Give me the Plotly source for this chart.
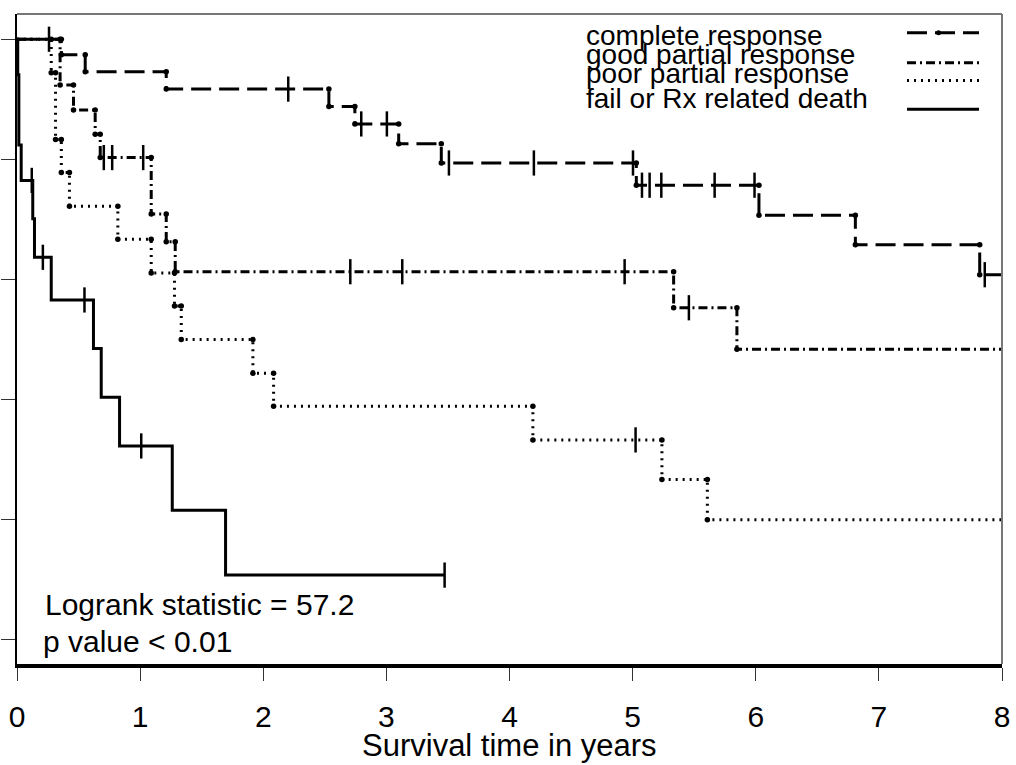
import plotly.graph_objects as go

# ---------------- data ----------------
x_ticks = [0, 1, 2, 3, 4, 5, 6, 7, 8]
y_ticks = [0.0, 0.2, 0.4, 0.6, 0.8, 1.0]

groups = ["complete response", "good partial response",
          "poor partial response", "fail or Rx related death"]

# complete response
cr_times = [0, 0.36, 0.554, 1.212, 2.533, 2.744, 3.10, 3.446, 5.03, 6.026, 6.809, 7.819]
cr_surv = [1.0, 0.974, 0.946, 0.917, 0.888, 0.859, 0.826, 0.794, 0.757, 0.707, 0.658, 0.608]
cr_cens = [0.26, 2.203, 2.796, 3.004, 3.508, 4.198, 5.003, 5.076, 5.138, 5.233, 5.666, 5.99, 7.86]
cr_end = 8.0

# good partial response
gp_times = [0, 0.35, 0.459, 0.635, 0.676, 1.09, 1.212, 1.285, 5.333, 5.847]
gp_surv = [1.0, 0.924, 0.882, 0.842, 0.803, 0.709, 0.663, 0.613, 0.553, 0.484]
gp_cens = [0.705, 0.773, 1.025, 2.707, 3.129, 4.935, 5.457]
gp_end = 8.0

# poor partial response
pp_times = [0, 0.278, 0.313, 0.36, 0.426, 0.819, 1.09, 1.279, 1.334, 1.916, 2.084, 4.19, 5.238, 5.607]
pp_surv = [1.0, 0.944, 0.833, 0.778, 0.722, 0.667, 0.611, 0.556, 0.5, 0.444, 0.389, 0.333, 0.267, 0.2]
pp_cens = [5.024]
pp_end = 8.0

# fail or Rx related death
fr_times = [0, 0.006, 0.015, 0.034, 0.128, 0.142, 0.278, 0.621, 0.684, 0.833, 1.261, 1.694]
fr_surv = [1.0, 0.941, 0.824, 0.765, 0.701, 0.637, 0.566, 0.485, 0.404, 0.323, 0.216, 0.108]
fr_cens = [0.12, 0.21, 0.548, 1.009, 3.473]
fr_end = 3.473

logrank_text = "Logrank statistic = 57.2"
pvalue_text = "p value < 0.01"
x_title = "Survival time in years"

# ---------------- styling ----------------
FONT = "Arial, Liberation Sans, sans-serif"
W, H = 1016, 765
ML, MR, MT, MB = 17, 14, 14, 101
PLOT_W, PLOT_H = W - ML - MR, H - MT - MB

DASH_CR = "20px,8px"
DASH_GP = "9px,4px,2px,4px"
DASH_PP = "2px,5px"


def px_x(px):
    return (px - ML) / PLOT_W


def px_y(py):
    return (MT + PLOT_H - py) / PLOT_H


def surv_at(times, surv, t):
    s = surv[0]
    for ti, si in zip(times, surv):
        if ti <= t:
            s = si
    return s


fig = go.Figure()

series = [
    (cr_times, cr_surv, cr_cens, cr_end, DASH_CR, 3, True),
    (gp_times, gp_surv, gp_cens, gp_end, DASH_GP, 3, True),
    (pp_times, pp_surv, pp_cens, pp_end, DASH_PP, 3, True),
    (fr_times, fr_surv, fr_cens, fr_end, "solid", 3, False),
]

for (times, surv, cens, end, dash, lw, dots), name in zip(series, groups):
    xs = list(times) + [end]
    ys = list(surv) + [surv[-1]]
    fig.add_trace(go.Scatter(x=xs, y=ys, mode="lines", line_shape="hv",
                             line=dict(color="black", width=lw, dash=dash),
                             name=name, showlegend=False, hoverinfo="skip"))
    if dots:
        dx, dy = [], []
        for i in range(1, len(times)):
            dx += [times[i], times[i]]
            dy += [surv[i - 1], surv[i]]
        fig.add_trace(go.Scatter(x=dx, y=dy, mode="markers",
                                 marker=dict(symbol="circle", size=5.5, color="black"),
                                 showlegend=False, hoverinfo="skip"))
    cy = [surv_at(times, surv, t) for t in cens]
    fig.add_trace(go.Scatter(x=cens, y=cy, mode="markers",
                             marker=dict(symbol="line-ns", size=18,
                                         line=dict(color="black", width=2.5)),
                             showlegend=False, hoverinfo="skip"))

shapes = []
# gray frame top and right
shapes.append(dict(type="line", xref="paper", yref="paper", x0=0, x1=1, y0=1, y1=1,
                   line=dict(color="#777777", width=2)))
shapes.append(dict(type="line", xref="paper", yref="paper", x0=1, x1=1, y0=0, y1=1,
                   line=dict(color="#777777", width=2)))

# legend samples
leg_y = [32.7, 62.7, 80.5, 109.3]
leg_dash = [DASH_CR, DASH_GP, DASH_PP, "solid"]
for yy, dd in zip(leg_y, leg_dash):
    shapes.append(dict(type="line", xref="paper", yref="paper",
                       x0=px_x(907), x1=px_x(979), y0=px_y(yy), y1=px_y(yy),
                       line=dict(color="black", width=3, dash=dd)))
shapes.append(dict(type="circle", xref="paper", yref="paper",
                   x0=px_x(936), x1=px_x(941), y0=px_y(30.2), y1=px_y(35.2),
                   fillcolor="black", line=dict(color="black", width=0)))

annotations = []
leg_center = [35.5, 54.5, 73.0, 98.5]
for name, cy in zip(groups, leg_center):
    annotations.append(dict(text=name, xref="paper", yref="paper",
                            x=px_x(585), y=px_y(cy), xanchor="left", yanchor="middle",
                            showarrow=False, borderpad=0,
                            font=dict(family=FONT, size=28, color="black")))
annotations.append(dict(text=logrank_text, xref="paper", yref="paper",
                        x=px_x(44), y=px_y(604.5), xanchor="left", yanchor="middle",
                        showarrow=False, borderpad=0,
                        font=dict(family=FONT, size=30, color="black")))
annotations.append(dict(text=pvalue_text, xref="paper", yref="paper",
                        x=px_x(42), y=px_y(641.5), xanchor="left", yanchor="middle",
                        showarrow=False, borderpad=0,
                        font=dict(family=FONT, size=30, color="black")))
annotations.append(dict(text=x_title, xref="paper", yref="paper",
                        x=px_x(509), y=px_y(746), xanchor="center", yanchor="middle",
                        showarrow=False, borderpad=0,
                        font=dict(family=FONT, size=31, color="black")))

fig.update_layout(
    width=W, height=H,
    margin=dict(l=ML, r=MR, t=MT, b=MB, pad=0),
    paper_bgcolor="white", plot_bgcolor="white",
    shapes=shapes, annotations=annotations,
    showlegend=False,
    xaxis=dict(range=[0, 8], tickvals=x_ticks, ticktext=[str(v) for v in x_ticks],
               automargin=False,
               showgrid=False, zeroline=False,
               showline=True, linecolor="black", linewidth=3.5,
               ticks="outside", ticklen=13, tickwidth=1, tickcolor="#333333",
               ticklabelstandoff=10,
               tickfont=dict(family=FONT, size=30, color="black")),
    yaxis=dict(range=[-0.04, 1.042], tickvals=y_ticks, showticklabels=False,
               automargin=False,
               showgrid=False, zeroline=False,
               showline=True, linecolor="black", linewidth=2,
               ticks="outside", ticklen=14, tickwidth=1, tickcolor="#333333"),
)

fig.write_html("out.html")
